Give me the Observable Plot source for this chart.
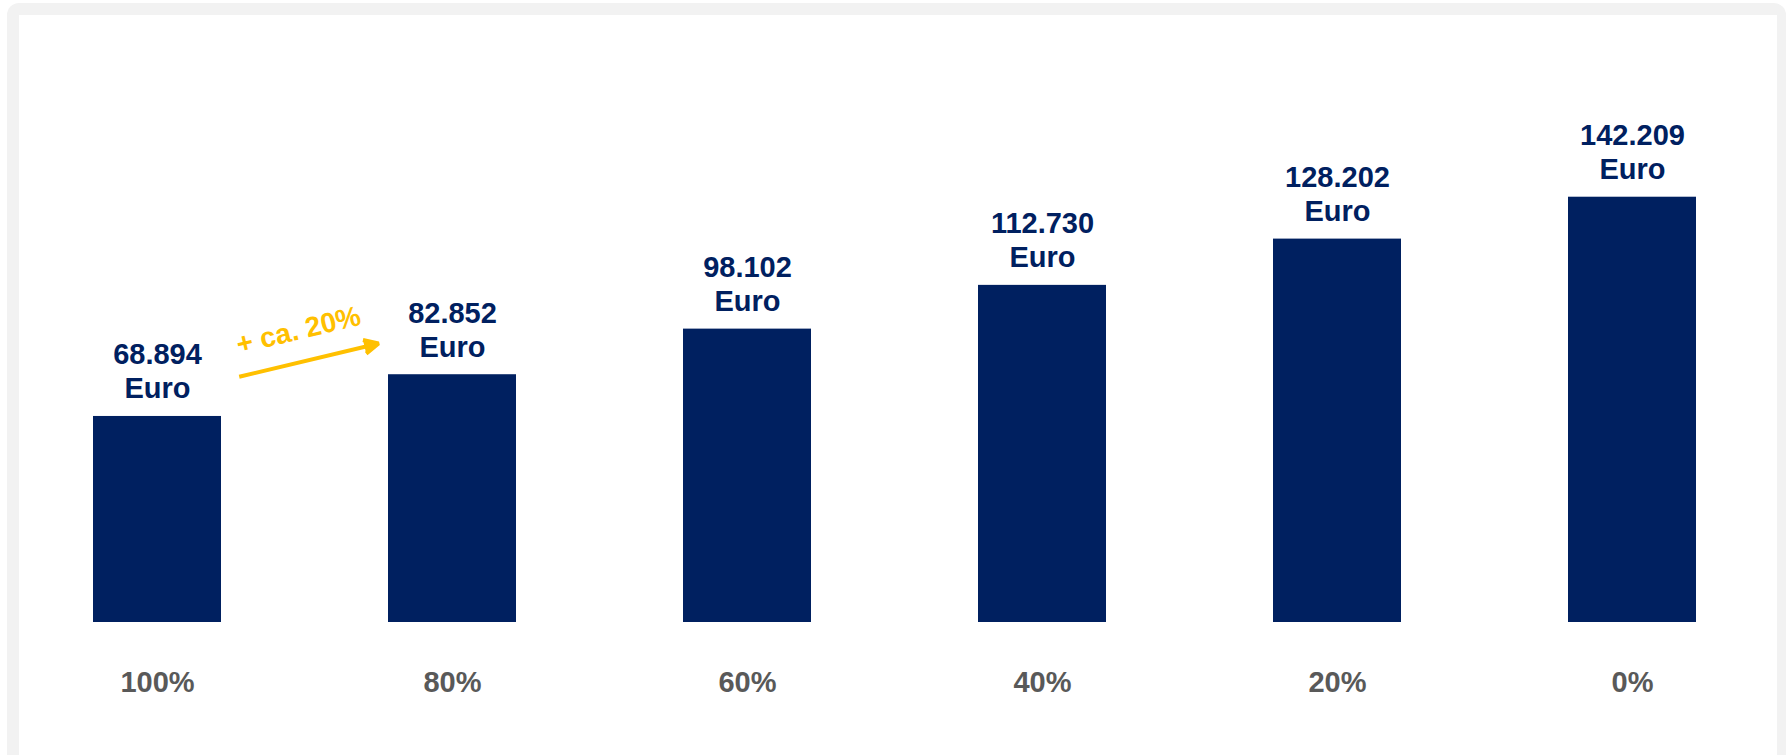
<!DOCTYPE html>
<html>
<head>
<meta charset="utf-8">
<script src="https://cdn.jsdelivr.net/npm/d3@7"></script>
<script src="https://cdn.jsdelivr.net/npm/@observablehq/plot@0.6"></script>
<style>
  html, body { margin: 0; padding: 0; background: #ffffff; overflow: hidden; }
  body { width: 1789px; height: 755px; position: relative; font-family: "Liberation Sans", Arial, sans-serif; }
  #frame { position: absolute; left: 7px; top: 3px; width: 1779px; height: 800px; background: #f2f2f2; border-radius: 12px; }
  #panel { position: absolute; left: 19px; top: 15px; width: 1758px; height: 740px; background: #ffffff; }
  #panel svg { display: block; }
</style>
</head>
<body>
<div id="frame"></div>
<div id="panel"></div>
<script>
// Share of the reference salary (categories) and the resulting amount in euro
const shares = ["100%", "80%", "60%", "40%", "20%", "0%"];
const amounts = [68894, 82852, 98102, 112730, 128202, 142209];
const unit = "Euro";

// Step annotation between the first two columns
const stepFrom = "100%";
const stepTo = "80%";
const stepStart = 75670;
const stepEnd = 99200;
const stepLabel = "+ ca. 20%";
const stepLabelLevel = 97650;

const navy = "#002060";
const gold = "#FFC000";
const grey = "#595959";

const de = d3.formatLocale({decimal: ",", thousands: ".", grouping: [3], currency: ["", " €"]});
const fmt = de.format(",d");

const rows = shares.map((share, i) => ({share, amount: amounts[i]}));
const step = [{from: stepFrom, to: stepTo, y1: stepStart, y2: stepEnd}];
const stepText = [{x: stepFrom, y: stepLabelLevel, text: stepLabel}];

const chart = Plot.plot({
  width: 1758,
  height: 740,
  marginLeft: 74,
  marginRight: 80,
  marginTop: 130,
  marginBottom: 133,
  style: {fontFamily: '"Liberation Sans", Arial, sans-serif', fontWeight: "bold", background: "transparent", overflow: "visible"},
  x: {domain: shares, paddingInner: 0.566, paddingOuter: 0, axis: null},
  y: {domain: [0, 159500], axis: null},
  marks: [
    Plot.barY(rows, {x: "share", y: "amount", fill: navy}),
    Plot.text(rows, {
      x: "share", y: "amount",
      text: d => `${fmt(d.amount)}\n${unit}`,
      lineAnchor: "bottom", lineHeight: 1.18, dy: -18,
      fontSize: 29, fontWeight: "bold", fill: navy
    }),
    Plot.axisX({tickSize: 0, tickPadding: 49, fontSize: 29, fontWeight: "bold", color: grey, label: null}),
    Plot.arrow(step, {
      x1: "from", x2: "to", y1: "y1", y2: "y2",
      insetStart: 84, insetEnd: 76,
      stroke: gold, fill: gold, strokeWidth: 4,
      headLength: 6, headAngle: 52, strokeLinecap: "butt"
    }),
    Plot.text(stepText, {
      x: "x", y: "y", text: "text",
      dx: 141, rotate: -13.5,
      lineAnchor: "middle", fontSize: 28, fontWeight: "bold", fill: gold
    })
  ]
});

document.getElementById("panel").appendChild(chart);
</script>
</body>
</html>
